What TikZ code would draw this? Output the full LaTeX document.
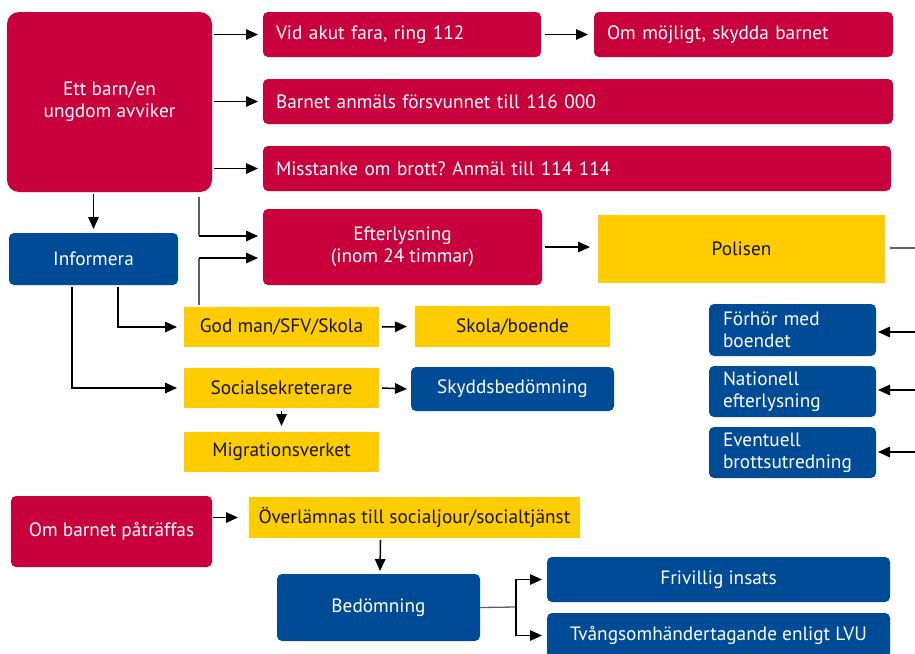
\documentclass[tikz,border=0pt]{standalone}
\usepackage{fontspec}
\setmainfont{PT Sans}
\usetikzlibrary{arrows.meta,calc}
\definecolor{cRed}{RGB}{200,0,60}
\definecolor{cBlue}{RGB}{0,75,150}
\definecolor{cYel}{RGB}{255,204,0}
\definecolor{cGray}{RGB}{95,95,95}
\definecolor{cInk}{RGB}{20,20,20}
\frenchspacing
\tikzset{
  base/.style={inner sep=0pt, outer sep=0pt, align=center,
    font=\fontsize{19.3}{22}\selectfont},
  redbox/.style={base, fill=cRed, rounded corners=5pt, text=white},
  bluebox/.style={base, fill=cBlue, rounded corners=5pt, text=white},
  yelbox/.style={base, fill=cYel, text=cInk},
  leftpad/.style={align=left, inner xsep=#1},
  arr/.style={-{Triangle[length=12pt,width=10.5pt]}, line width=1.5pt, draw=black},
  gline/.style={line width=1.3pt, draw=cGray},
}
\begin{document}
\begin{tikzpicture}[x=1pt,y=-1pt]
\clip (0,0) rectangle (915,653);
\useasboundingbox (0,0) rectangle (915,653);

% red column / top rows
\node[redbox, rounded corners=12pt, minimum width=205, minimum height=180] (ett) at (109.5,102) {Ett barn/en\\ungdom avviker};
\node[redbox, leftpad=13pt, text width=252pt, minimum height=45] (vid) at (402,34.5) {Vid akut fara, ring 112};
\node[redbox, leftpad=13pt, text width=273pt, minimum height=45] (om) at (743.5,34.5) {Om möjligt, skydda barnet};
\node[redbox, leftpad=13pt, text width=604pt, minimum height=45] (anm) at (578,101.5) {Barnet anmäls försvunnet till 116 000};
\node[redbox, leftpad=13pt, text width=602pt, minimum height=45] (miss) at (577,168.5) {Misstanke om brott? Anmäl till 114 114};
\node[redbox, minimum width=279, minimum height=76] (eft) at (402.5,247) {Efterlysning\\(inom 24 timmar)};
\node[yelbox, minimum width=287, minimum height=68] (pol) at (741.5,249) {Polisen};

% informera branch
\node[bluebox, minimum width=169, minimum height=52] (inf) at (93.5,259) {Informera};
\node[yelbox, minimum width=195, minimum height=40] (god) at (281.5,327) {God man/SFV/Skola};
\node[yelbox, minimum width=195, minimum height=41] (skola) at (512.5,326.5) {Skola/boende};
\node[yelbox, minimum width=195, minimum height=40] (soc) at (281.5,388) {Socialsekreterare};
\node[bluebox, minimum width=203, minimum height=44] (skydd) at (512.5,389) {Skyddsbedömning};
\node[yelbox, minimum width=195, minimum height=40] (mig) at (281.5,452) {Migrationsverket};

% police actions
\node[bluebox, leftpad=14pt, text width=139pt, minimum height=52] (forhor) at (792.5,330) {Förhör med\\boendet};
\node[bluebox, leftpad=14pt, text width=139pt, minimum height=51] (nat) at (792.5,391.5) {Nationell\\efterlysning};
\node[bluebox, leftpad=14pt, text width=139pt, minimum height=51] (eve) at (792.5,452.5) {Eventuell\\brottsutredning};

% found
\node[redbox, minimum width=201, minimum height=71] (ombarn) at (111.5,531.5) {Om barnet påträffas};
\node[yelbox, minimum width=331, minimum height=41] (over) at (414.5,517.5) {Överlämnas till socialjour/socialtjänst};
\node[bluebox, minimum width=203, minimum height=67] (bed) at (378.5,607.5) {Bedömning};
\node[bluebox, minimum width=343, minimum height=45] (friv) at (718.5,579.5) {Frivillig insats};
\node[bluebox, minimum width=343, minimum height=45] (tvang) at (718.5,635.5) {Tvångsomhändertagande enligt LVU};

% free ends at the right edge
\coordinate (polR) at (915,248);
\coordinate (inF) at (915,332);
\coordinate (inN) at (915,390);
\coordinate (inE) at (915,452);

% connectors
\draw[arr] ([xshift=2pt]ett.east |- vid.west) -- ([xshift=-5pt]vid.west);
\draw[arr] ([xshift=2pt]ett.east |- anm.west) -- ([xshift=-5pt]anm.west);
\draw[arr] ([xshift=2pt]ett.east |- miss.west) -- ([xshift=-5pt]miss.west);
\draw[arr] ([xshift=4pt]vid.east) -- ([xshift=-6pt]om.west);

\coordinate (eftA) at ([xshift=-5pt,yshift=11pt]eft.west);
\coordinate (eftB) at ([xshift=-5pt,yshift=-11pt]eft.west);
\coordinate (e1) at ([xshift=-13pt,yshift=-5pt]ett.south east);
\coordinate (e1b) at (e1 |- eftA);
\draw[gline] (e1) -- (e1b);
\draw[arr] (e1b) -- (eftA);

\coordinate (g1) at ([xshift=15pt,yshift=2pt]god.north west);
\coordinate (g1b) at (g1 |- eftB);
\draw[gline] (g1) -- (g1b);
\draw[arr] (g1b) -- (eftB);

\coordinate (polW) at ([xshift=-8pt]pol.west);
\draw[arr] ([xshift=3pt]eft.east) -- (polW |- eft.east);
\draw[gline] ([xshift=5pt]pol.east |- polR) -- (polR);

\draw[arr] (inF) -- ([xshift=2pt]forhor.east |- inF);
\draw[arr] (inN) -- ([xshift=2pt]nat.east |- inN);
\draw[arr] (inE) -- ([xshift=2pt]eve.east |- inE);

\coordinate (ettS) at ([yshift=-2pt]ett.south);
\draw[arr] (inf.north |- ettS) -- ([yshift=4pt]inf.north);
\draw[arr] ([xshift=24.5pt,yshift=-2pt]inf.south) |- ([xshift=-7pt]god.west);
\draw[arr] ([xshift=-21.5pt,yshift=-2pt]inf.south) |- ([xshift=-7pt]soc.west);

\draw[arr] ([xshift=3pt]god.east) -- ([xshift=-8pt]skola.west);
\draw[arr] ([xshift=3pt]soc.east) -- ([xshift=-4pt]skydd.west);
\draw[arr] ([yshift=-3pt]soc.south) -- ([yshift=6pt]mig.north);

\draw[arr] ([xshift=1pt]ombarn.east |- over.west) -- ([xshift=-11pt]over.west);
\draw[arr] ([xshift=-34pt,yshift=-2pt]over.south) -- ([xshift=1.5pt,yshift=3pt]bed.north);

\coordinate (br) at (516,607);
\draw[gline] (bed.east) -- (br);
\draw[arr] (br) |- ([xshift=-5pt]friv.west);
\draw[arr] (br) |- ([xshift=-5pt]tvang.west);
\end{tikzpicture}
\end{document}
